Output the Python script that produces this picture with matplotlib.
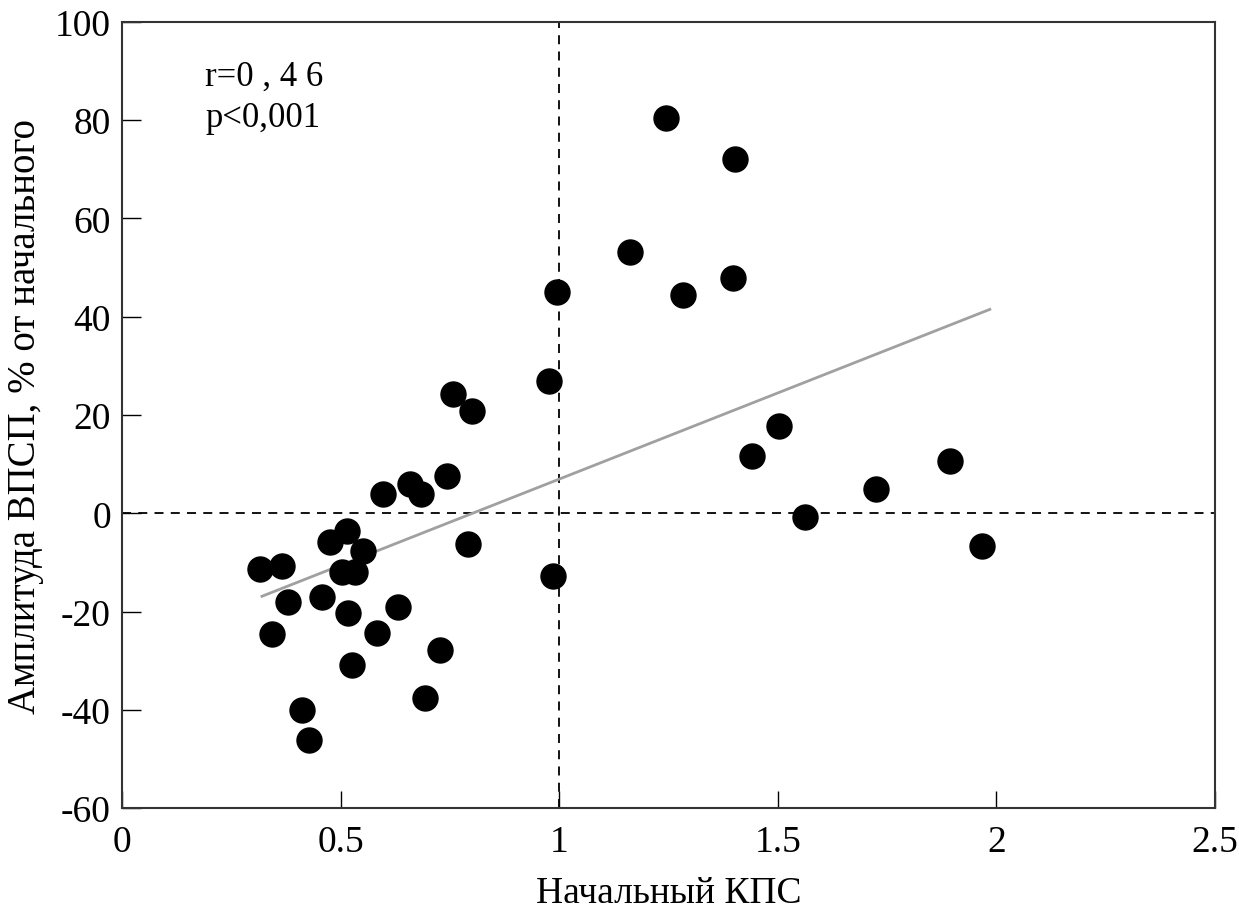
import matplotlib.pyplot as plt

# initial KPS (x) vs EPSP amplitude change, % (y)
kps = [1.244, 1.402, 1.162, 0.995, 1.283, 1.398, 0.977, 0.757, 0.800, 0.743,
       0.597, 0.658, 0.684,
       0.515, 0.476, 0.551, 0.316, 0.366, 0.503, 0.533, 0.791, 0.380, 0.457,
       0.517, 0.631, 0.343, 0.583, 0.727, 0.526, 0.693, 0.412, 0.428,
       1.503, 1.441, 1.562, 1.725, 1.894, 1.967, 0.986]
ampl = [80.4, 72.1, 53.1, 45.0, 44.4, 47.8, 26.9, 24.2, 20.8, 7.5,
        3.9, 5.9, 3.9,
        -3.7, -5.9, -7.7, -11.4, -10.8, -12.0, -12.0, -6.3, -18.1, -17.1,
        -20.2, -19.1, -24.6, -24.4, -27.9, -30.9, -37.7, -40.1, -46.2,
        17.7, 11.6, -0.8, 4.9, 10.6, -6.7, -12.8]

fit_x = [0.320, 1.985]
fit_y = [-16.9, 41.5]

x_ticks = [0, 0.5, 1, 1.5, 2, 2.5]
x_labels = ["0", "0.5", "1", "1.5", "2", "2.5"]
y_ticks = [-60, -40, -20, 0, 20, 40, 60, 80, 100]

plt.rcParams['font.family'] = ['Liberation Serif', 'DejaVu Serif']
plt.rcParams['axes.unicode_minus'] = False

fig = plt.figure(figsize=(12.39, 9.12), dpi=100)
ax = fig.add_axes([0.0985, 0.1129, 0.8821, 0.8619])

ax.set_xlim(0, 2.5)
ax.set_ylim(-60, 100)

ax.axvline(1, color='black', lw=1.3, ls=(0, (5, 4)), zorder=1)
ax.axhline(0, color='black', lw=1.3, ls=(0, (5, 4)), zorder=1)
ax.plot(fit_x, fit_y, color='#a0a0a0', lw=2, zorder=2)
ax.plot(kps, ampl, 'o', color='black', ms=18, zorder=3)

ax.text(0.19, 89, "r=0 , 4 6", fontsize=25, va='center')
ax.text(0.19, 80.5, "p<0,001", fontsize=25, va='center')

ax.set_xticks(x_ticks)
ax.set_xticklabels(x_labels)
ax.set_yticks(y_ticks)
ax.tick_params(axis='x', direction='in', length=12, width=1, pad=12, labelsize=27)
ax.tick_params(axis='y', direction='in', length=14, width=1, pad=8, labelsize=27)

for s in ax.spines.values():
    s.set_linewidth(1.5)
    s.set_color('#333333')

ax.set_xlabel("Начальный КПС", fontsize=27, labelpad=12)
ax.set_ylabel("Амплитуда ВПСП, % от начального", fontsize=28, labelpad=8)

fig.savefig("out.png", dpi=100)
